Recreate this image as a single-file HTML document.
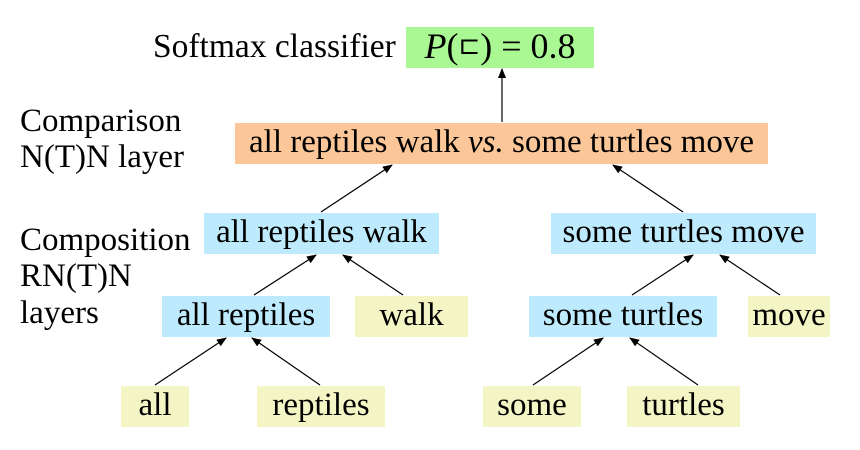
<!DOCTYPE html>
<html><head><meta charset="utf-8"><style>
body{margin:0;background:#fff;width:860px;height:450px;position:relative;overflow:hidden;font-family:"Liberation Serif",serif;color:#000}
.b{position:absolute;display:flex;align-items:center;justify-content:center;font-size:33px;white-space:nowrap;line-height:1;padding-bottom:3px;box-sizing:border-box}
.g{background:#aaf894}.o{background:#fcc798}.u{background:#bdeafc}.y{background:#f4f5c5}
.t{position:absolute;font-size:33px;white-space:nowrap;line-height:1}
svg{position:absolute;left:0;top:0}
</style></head><body>
<div class="t" style="left:153px;top:30px;font-size:33.5px">Softmax classifier</div>
<div class="b g" style="left:406px;top:27px;width:188px;height:41px;font-size:36px"><i>P</i>(<span style="font-family:'DejaVu Sans',sans-serif;font-size:26px;font-weight:200">⊏</span>)&nbsp;=&nbsp;0.8</div>
<div class="t" style="left:20px;top:105px">Comparison</div>
<div class="t" style="left:20px;top:141px">N(T)N layer</div>
<div class="t" style="left:20px;top:224px">Composition</div>
<div class="t" style="left:20px;top:260px">RN(T)N</div>
<div class="t" style="left:20px;top:297px">layers</div>
<div class="b o" style="left:235px;top:123px;width:533px;height:41px">all reptiles walk&nbsp;<i>vs.</i>&nbsp;some turtles move</div>
<div class="b u" style="left:204px;top:213px;width:235px;height:41px">all reptiles walk</div>
<div class="b u" style="left:551px;top:213px;width:265px;height:41px">some turtles move</div>
<div class="b u" style="left:162px;top:296px;width:168px;height:41px">all reptiles</div>
<div class="b y" style="left:355px;top:296px;width:113px;height:41px">walk</div>
<div class="b u" style="left:529px;top:296px;width:188px;height:41px">some turtles</div>
<div class="b y" style="left:748px;top:296px;width:82px;height:41px">move</div>
<div class="b y" style="left:121px;top:386px;width:68px;height:41px">all</div>
<div class="b y" style="left:257px;top:386px;width:128px;height:41px">reptiles</div>
<div class="b y" style="left:483px;top:386px;width:98px;height:41px">some</div>
<div class="b y" style="left:627px;top:386px;width:113px;height:41px">turtles</div>
<svg width="860" height="450"><defs><marker id="a" markerWidth="10" markerHeight="8" refX="9" refY="4" orient="auto" markerUnits="userSpaceOnUse"><path d="M0,0L10,4L0,8z"/></marker></defs>
<g stroke="#000" stroke-width="1.2" marker-end="url(#a)">
<line x1="502" y1="122" x2="502" y2="69"/>
<line x1="321" y1="212" x2="392" y2="165"/>
<line x1="683" y1="212" x2="613" y2="165"/>
<line x1="254" y1="295" x2="316" y2="255"/>
<line x1="403" y1="295" x2="343" y2="255"/>
<line x1="632" y1="295" x2="693" y2="255"/>
<line x1="780" y1="295" x2="720" y2="255"/>
<line x1="155" y1="385" x2="226" y2="338"/>
<line x1="320" y1="385" x2="252" y2="338"/>
<line x1="533" y1="385" x2="603" y2="338"/>
<line x1="698" y1="385" x2="630" y2="338"/>
</g></svg>
</body></html>
